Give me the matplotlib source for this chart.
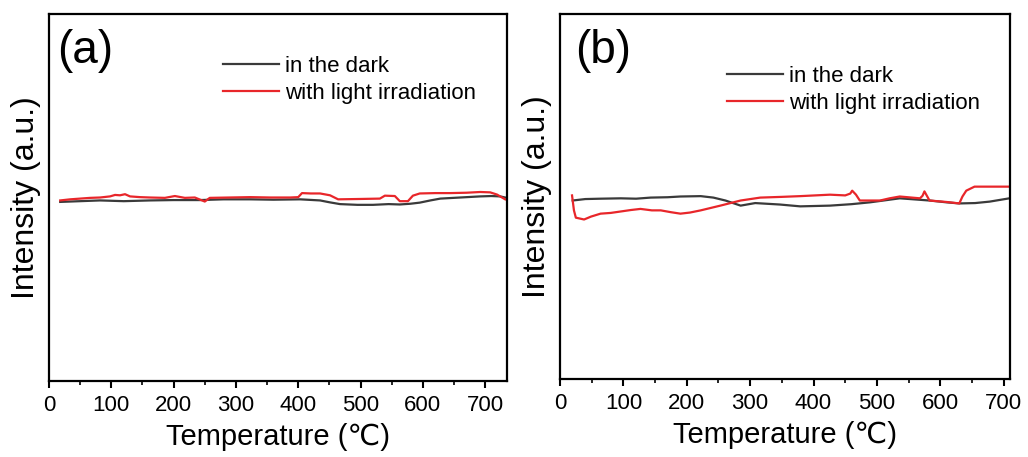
import matplotlib
matplotlib.use("Agg")
import matplotlib.pyplot as plt
from matplotlib.ticker import MultipleLocator

plt.rcParams['font.family'] = ['Liberation Sans', 'DejaVu Sans']

# ---------------- data ----------------
# panel (a)
a_dark_T = [18, 50, 82, 120, 162, 200, 242, 280, 323, 360, 403, 435, 450, 467, 495, 520, 545, 563,
            580, 595, 612, 628, 660, 692, 710, 724, 732]
a_dark_I = [48.8, 49.0, 49.2, 49.0, 49.2, 49.3, 49.3, 49.5, 49.5, 49.4, 49.5, 49.2, 48.7, 48.2, 48.0,
            48.0, 48.2, 48.1, 48.3, 48.6, 49.2, 49.7, 50.0, 50.3, 50.4, 50.3, 50.0]
a_red_T = [18, 34, 50, 66, 82, 98, 106, 114, 122, 130, 146, 162, 186, 202, 218, 234, 250, 258, 290, 323,
           355, 387, 400, 406, 420, 435, 451, 464, 500, 531, 539, 555, 563, 576, 584, 595, 620, 644,
           670, 692, 708, 719, 732]
a_red_I = [49.2, 49.5, 49.7, 49.9, 50.0, 50.3, 50.7, 50.6, 50.9, 50.3, 50.1, 50.0, 49.9, 50.4, 49.9,
           50.0, 48.9, 49.9, 50.0, 50.1, 50.0, 50.0, 50.1, 51.2, 51.1, 51.1, 50.6, 49.5, 49.6, 49.7,
           50.5, 50.4, 49.0, 49.0, 50.5, 51.1, 51.2, 51.2, 51.3, 51.5, 51.4, 50.8, 49.5]

# panel (b)
b_dark_T = [20, 40, 64, 96, 120, 143, 170, 190, 222, 242, 261, 285, 308, 347, 379, 426, 460, 489,
            536, 552, 583, 610, 630, 655, 678, 709]
b_dark_I = [48.9, 49.3, 49.4, 49.5, 49.4, 49.7, 49.8, 50.0, 50.1, 49.7, 48.9, 47.5, 48.2, 47.8, 47.3,
            47.5, 47.9, 48.4, 49.5, 49.3, 48.9, 48.4, 48.1, 48.2, 48.6, 49.5]
b_red_T = [19, 22, 25, 38, 49, 64, 80, 96, 112, 127, 145, 159, 175, 190, 205, 222, 253, 285, 316, 350,
           379, 426, 450, 458, 461, 467, 473, 505, 520, 536, 568, 572, 575, 583, 610, 630, 635, 641,
           654, 680, 709]
b_red_I = [50.3, 46.2, 44.2, 43.7, 44.5, 45.3, 45.5, 45.9, 46.3, 46.6, 46.2, 46.2, 45.7, 45.3, 45.6,
           46.2, 47.5, 48.9, 49.7, 49.9, 50.1, 50.5, 50.3, 50.8, 51.6, 50.5, 48.9, 48.9, 49.5, 50.0,
           49.5, 50.2, 51.4, 48.9, 48.5, 48.1, 50.0, 51.6, 52.7, 52.7, 52.7]

xticks = [0, 100, 200, 300, 400, 500, 600, 700]
labels = ["in the dark", "with light irradiation"]
panel_tags = ["(a)", "(b)"]

# ---------------- figure ----------------
W, H = 1028, 457
fig = plt.figure(figsize=(W / 100, H / 100), dpi=100)

def px_axes(l, t, r, b):
    return fig.add_axes([l / W, 1 - b / H, (r - l) / W, (b - t) / H])

ax1 = px_axes(49, 14, 507, 381)
ax2 = px_axes(560, 14, 1010, 379)

dark_c = '#3a3a3a'
red_c = '#e8262a'

panels = [
    (ax1, a_dark_T, a_dark_I, a_red_T, a_red_I, 735, (0.38, 0.885), (0.017, 0.96), panel_tags[0]),
    (ax2, b_dark_T, b_dark_I, b_red_T, b_red_I, 710, (0.371, 0.857), (0.033, 0.96), panel_tags[1]),
]

for ax, dT, dI, rT, rI, xmax, legpos, tagpos, tag in panels:
    ax.plot(dT, dI, color=dark_c, lw=1.6, label=labels[0])
    ax.plot(rT, rI, color=red_c, lw=1.6, label=labels[1])
    ax.set_xlim(0, xmax)
    ax.set_ylim(0, 100)
    ax.set_xticks(xticks)
    ax.xaxis.set_minor_locator(MultipleLocator(50))
    ax.set_yticks([])
    ax.tick_params(axis='x', which='major', direction='out', length=5, width=1.5,
                   labelsize=16, pad=5, top=False)
    ax.tick_params(axis='x', which='minor', direction='out', length=3, width=1.2, top=False)
    for s in ax.spines.values():
        s.set_linewidth(1.6)
    ax.set_xlabel('Temperature (℃)', fontsize=21, labelpad=5)
    ax.set_ylabel('Intensity (a.u.)', fontsize=23, labelpad=6)
    ax.legend(loc='upper left', bbox_to_anchor=legpos, frameon=False, fontsize=16,
              borderpad=0, borderaxespad=0, handlelength=2.5, handletextpad=0.3,
              labelspacing=0.25)
    ax.text(tagpos[0], tagpos[1], tag, transform=ax.transAxes, fontsize=33,
            va='top', ha='left')

fig.savefig('out.png', dpi=100)
